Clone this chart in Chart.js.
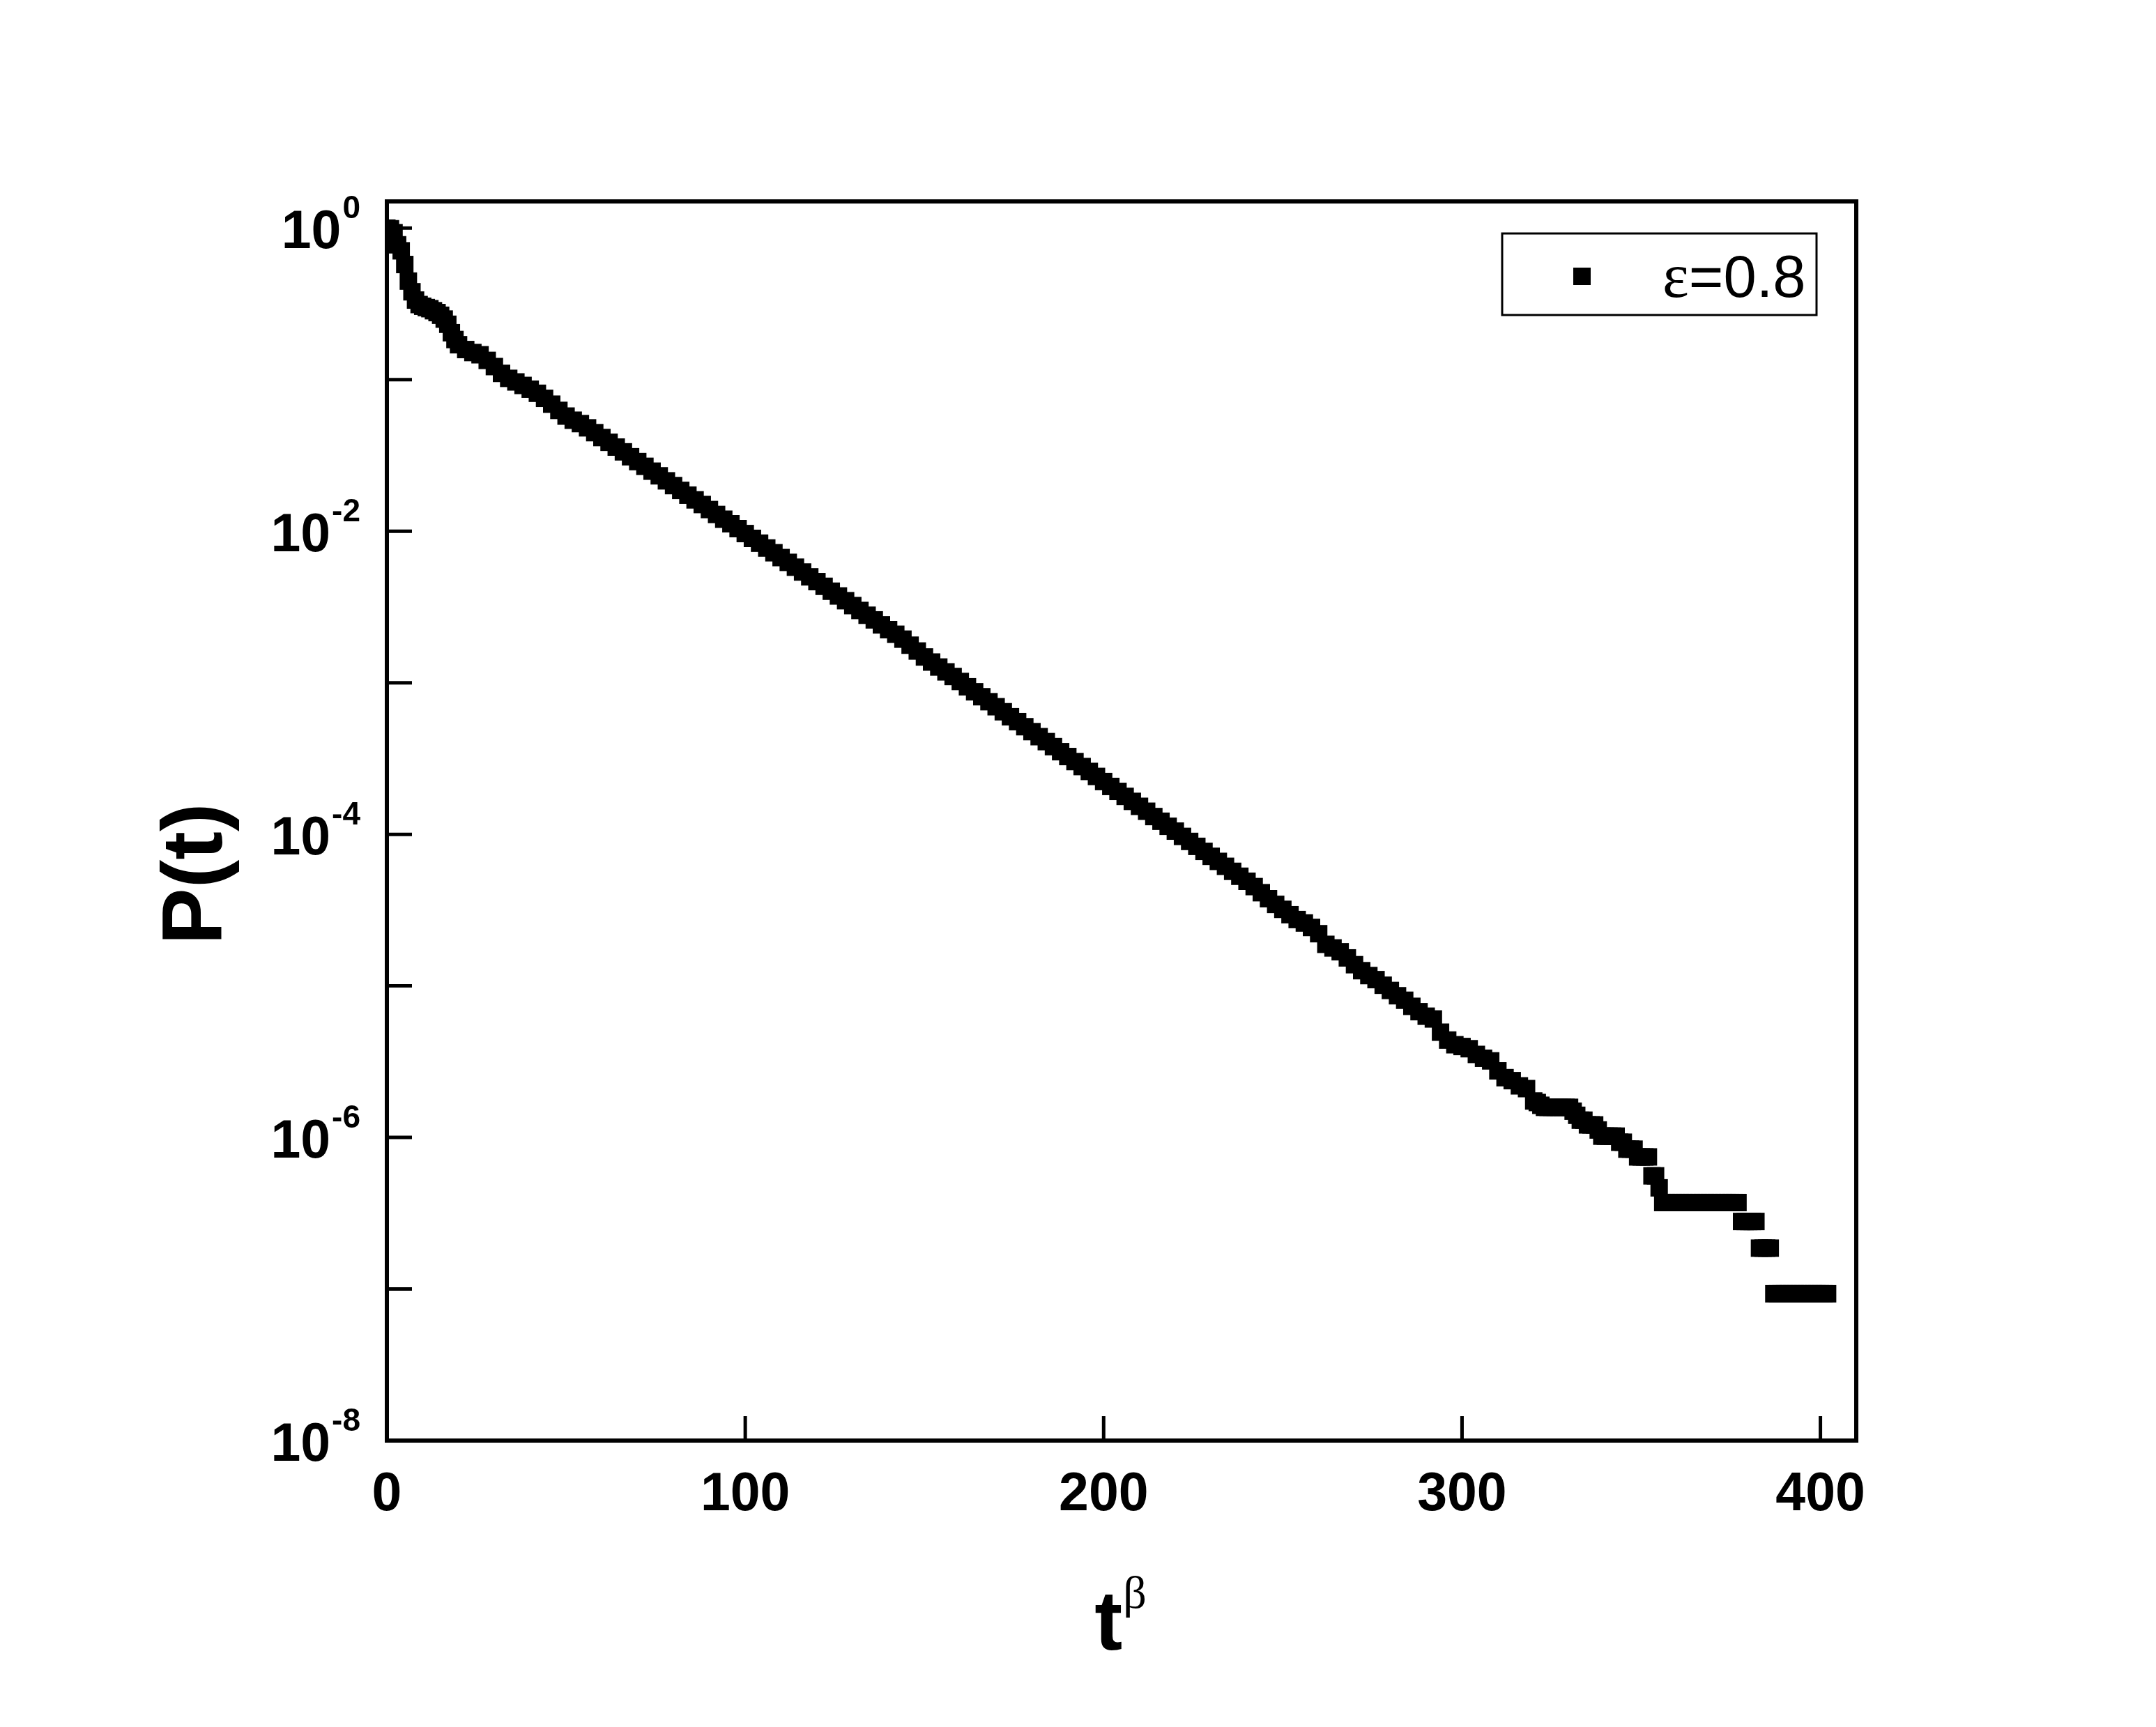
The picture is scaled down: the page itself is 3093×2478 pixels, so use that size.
<!DOCTYPE html>
<html>
<head>
<meta charset="utf-8">
<script src="https://cdn.jsdelivr.net/npm/chart.js@4.4.0/dist/chart.umd.min.js"></script>
<style>
  html, body { margin: 0; padding: 0; background: #fff; }
  #wrap { width: 3093px; height: 2478px; }
</style>
</head>
<body>
<div id="wrap"><canvas id="chart"></canvas></div>
<script>
// t^beta values (x) and survival probability P(t) (y)
var tVals = [
  0, 1, 2, 3, 4, 5, 6, 7, 8, 9,
  10, 11, 12, 13, 14, 15, 16, 17, 18, 19,
  20, 22, 24, 26, 28, 30, 32, 34, 36, 38,
  40, 42, 44, 46, 48, 50, 52, 54, 56, 58,
  60, 62, 64, 66, 68, 70, 72, 74, 76, 78,
  80, 82, 84, 86, 88, 90, 92, 94, 96, 98,
  100, 102, 104, 106, 108, 110, 112, 114, 116, 118,
  120, 122, 124, 126, 128, 130, 132, 134, 136, 138,
  140, 142, 144, 146, 148, 150, 152, 154, 156, 158,
  160, 162, 164, 166, 168, 170, 172, 174, 176, 178,
  180, 182, 184, 186, 188, 190, 192, 194, 196, 198,
  200, 202, 204, 206, 208, 210, 212, 214, 216, 218,
  220, 222, 224, 226, 228, 230, 232, 234, 236, 238,
  240, 242, 244, 246, 248, 250, 252, 254, 256, 258,
  260, 262, 264, 266, 268, 270, 272, 274, 276, 278,
  280, 282, 284, 286, 288, 290, 292, 294, 296, 298,
  300, 302, 304, 306, 308, 310, 312, 314, 316, 318,
  320, 321, 322, 323, 324, 325, 326, 327, 328, 329,
  330, 331, 332, 333, 334, 335, 336, 337, 338, 339,
  340, 341, 342, 343, 344, 345, 346, 347, 348, 349,
  350, 351, 352, 353, 354, 355, 356, 357, 358, 359,
  360, 361, 362, 363, 364, 365, 366, 367, 368, 369,
  370, 371, 372, 373, 374, 375, 376, 377, 378, 379,
  380, 381, 382, 383, 384, 385, 386, 387, 388, 389,
  390, 391, 392, 393, 394, 395, 396, 397, 398, 399,
  400, 401, 402
];

var pVals = [
  1.00, 0.990, 0.933, 0.776, 0.708, 0.575, 0.447, 0.380, 0.335, 0.313,
  0.305, 0.299, 0.294, 0.285, 0.277, 0.266, 0.251, 0.232, 0.204, 0.184,
  0.170, 0.158, 0.151, 0.146, 0.134, 0.122, 0.110, 0.102, 0.0966, 0.0916,
  0.0865, 0.0813, 0.0753, 0.0689, 0.0627, 0.0575, 0.0540, 0.0513, 0.0481, 0.0447,
  0.0415, 0.0386, 0.0359, 0.0334, 0.0310, 0.0288, 0.0268, 0.0249, 0.0232, 0.0215,
  0.0200, 0.0186, 0.0173, 0.0161, 0.0150, 0.0139, 0.0129, 0.0120, 0.0112, 0.0104,
  9.65e-3, 8.97e-3, 8.34e-3, 7.75e-3, 7.21e-3, 6.70e-3, 6.23e-3, 5.79e-3, 5.38e-3, 5.00e-3,
  4.65e-3, 4.33e-3, 4.02e-3, 3.74e-3, 3.48e-3, 3.23e-3, 3.00e-3, 2.79e-3, 2.60e-3, 2.41e-3,
  2.24e-3, 2.09e-3, 1.94e-3, 1.77e-3, 1.62e-3, 1.48e-3, 1.37e-3, 1.27e-3, 1.18e-3, 1.10e-3,
  1.02e-3, 9.41e-4, 8.72e-4, 8.09e-4, 7.50e-4, 6.95e-4, 6.44e-4, 5.97e-4, 5.54e-4, 5.13e-4,
  4.76e-4, 4.41e-4, 4.09e-4, 3.79e-4, 3.51e-4, 3.26e-4, 3.02e-4, 2.80e-4, 2.60e-4, 2.41e-4,
  2.23e-4, 2.07e-4, 1.92e-4, 1.78e-4, 1.65e-4, 1.53e-4, 1.42e-4, 1.31e-4, 1.22e-4, 1.13e-4,
  1.05e-4, 9.69e-5, 8.98e-5, 8.33e-5, 7.72e-5, 7.16e-5, 6.63e-5, 6.15e-5, 5.70e-5, 5.29e-5,
  4.90e-5, 4.52e-5, 4.12e-5, 3.76e-5, 3.45e-5, 3.20e-5, 2.95e-5, 2.74e-5, 2.60e-5, 2.43e-5,
  2.21e-5, 1.88e-5, 1.78e-5, 1.68e-5, 1.53e-5, 1.38e-5, 1.26e-5, 1.17e-5, 1.10e-5, 1.01e-5,
  9.33e-6, 8.61e-6, 8.04e-6, 7.33e-6, 6.76e-6, 6.31e-6, 6.05e-6, 4.95e-6, 4.39e-6, 4.09e-6,
  3.98e-6, 3.85e-6, 3.53e-6, 3.33e-6, 3.20e-6, 2.75e-6, 2.48e-6, 2.37e-6, 2.19e-6, 2.10e-6,
  1.74e-6, 1.70e-6, 1.63e-6, 1.58e-6, 1.58e-6, 1.58e-6, 1.58e-6, 1.58e-6, 1.58e-6, 1.58e-6,
  1.58e-6, 1.49e-6, 1.40e-6, 1.30e-6, 1.30e-6, 1.21e-6, 1.21e-6, 1.21e-6, 1.12e-6, 1.02e-6,
  1.02e-6, 1.02e-6, 1.02e-6, 1.02e-6, 9.30e-7, 9.30e-7, 8.37e-7, 8.37e-7, 8.37e-7, 7.44e-7,
  7.44e-7, 7.44e-7, 7.44e-7, 5.58e-7, 5.58e-7, 4.65e-7, 3.72e-7, 3.72e-7, 3.72e-7, 3.72e-7,
  3.72e-7, 3.72e-7, 3.72e-7, 3.72e-7, 3.72e-7, 3.72e-7, 3.72e-7, 3.72e-7, 3.72e-7, 3.72e-7,
  3.72e-7, 3.72e-7, 3.72e-7, 3.72e-7, 3.72e-7, 3.72e-7, 3.72e-7, 3.72e-7, 2.79e-7, 2.79e-7,
  2.79e-7, 2.79e-7, 2.79e-7, 1.86e-7, 1.86e-7, 1.86e-7, 1.86e-7, 9.30e-8, 9.30e-8, 9.30e-8,
  9.30e-8, 9.30e-8, 9.30e-8, 9.30e-8, 9.30e-8, 9.30e-8, 9.30e-8, 9.30e-8, 9.30e-8, 9.30e-8,
  9.30e-8, 9.30e-8, 9.30e-8
];

var xTicks = [0, 100, 200, 300, 400];
var yMajorExp = [0, -2, -4, -6, -8];   // labelled decades
var yMinorExp = [-1, -3, -5, -7];      // unlabelled decades
var seriesLabel = 'ε=0.8';
var xTitle = 't', xTitleSup = 'β';
var yTitle = 'P(t)';

var points = tVals.map(function (t, i) {
  return { x: t, y: pVals[i] };
});

var SANS = '"Liberation Sans", Arial, sans-serif';
var SERIF = '"Liberation Serif", "Times New Roman", serif';

// frame, inward ticks, labels with superscripts, titles and legend
var framePlugin = {
  id: 'frame',
  afterDatasetsDraw: function (chart) {
    var ctx = chart.ctx;
    var a = chart.chartArea;
    var xs = chart.scales.x;
    var ys = chart.scales.y;
    ctx.save();
    ctx.fillStyle = '#000';
    ctx.strokeStyle = '#000';

    // ticks pointing into the plot
    ctx.lineWidth = 5;
    ctx.beginPath();
    yMajorExp.concat(yMinorExp).forEach(function (e) {
      var py = ys.getPixelForValue(Math.pow(10, e));
      ctx.moveTo(a.left, py);
      ctx.lineTo(a.left + 36, py);
    });
    xTicks.forEach(function (v) {
      var px = xs.getPixelForValue(v);
      ctx.moveTo(px, a.bottom);
      ctx.lineTo(px, a.bottom - 35);
    });
    ctx.stroke();

    // box
    ctx.lineWidth = 6;
    ctx.strokeRect(a.left, a.top, a.right - a.left, a.bottom - a.top);

    // x tick labels
    ctx.textBaseline = 'alphabetic';
    ctx.textAlign = 'center';
    ctx.font = 'bold 77px ' + SANS;
    xTicks.forEach(function (v) {
      ctx.fillText(String(v), xs.getPixelForValue(v), a.bottom + 100);
    });

    // y tick labels 10^n
    ctx.textAlign = 'right';
    yMajorExp.forEach(function (e) {
      var py = ys.getPixelForValue(Math.pow(10, e));
      var sup = String(e);
      var supRight = a.left - 38;
      ctx.font = 'bold 46px ' + SANS;
      ctx.fillText(sup, supRight, py - 14);
      var supW = ctx.measureText(sup).width;
      ctx.font = 'bold 77px ' + SANS;
      ctx.fillText('10', supRight - supW - 2, py + 29);
    });

    // x title t^beta
    var cx = (a.left + a.right) / 2;
    ctx.textAlign = 'left';
    ctx.font = 'bold 120px ' + SANS;
    var tw = ctx.measureText(xTitle).width;
    ctx.font = '66px ' + SERIF;
    var bw = ctx.measureText(xTitleSup).width;
    var x0 = cx - (tw + bw) / 2 - 2;
    ctx.font = 'bold 120px ' + SANS;
    ctx.fillText(xTitle, x0, a.bottom + 300);
    ctx.font = '66px ' + SERIF;
    ctx.fillText(xTitleSup, x0 + tw + 1, a.bottom + 240);

    // y title
    ctx.save();
    ctx.translate(a.left - 237, (a.top + a.bottom) / 2 + 76);
    ctx.rotate(-Math.PI / 2);
    ctx.textAlign = 'center';
    ctx.font = 'bold 122px ' + SANS;
    ctx.fillText(yTitle, 0, 0);
    ctx.restore();

    // legend
    var lx = a.right - 508, ly = a.top + 46, lw = 451, lh = 117;
    ctx.lineWidth = 3;
    ctx.strokeRect(lx, ly, lw, lh);
    ctx.fillRect(lx + 102, ly + 49, 25, 25);
    var sym = seriesLabel.charAt(0);
    var rest = seriesLabel.slice(1);
    ctx.textAlign = 'left';
    ctx.font = '90px ' + SERIF;
    var sx = lx + 230;
    ctx.fillText(sym, sx, ly + 91);
    var sw = ctx.measureText(sym).width;
    ctx.font = '85px ' + SANS;
    ctx.fillText(rest, sx + sw, ly + 91);

    ctx.restore();
  }
};

window.onload = function () {
  var ctx = document.getElementById('chart').getContext('2d');
  window.myChart = new Chart(ctx, {
    type: 'scatter',
    data: {
      datasets: [{
        label: seriesLabel,
        data: points,
        pointStyle: 'rect',
        pointRadius: 17.68,
        pointBorderWidth: 0,
        pointBackgroundColor: '#000',
        clip: 0
      }]
    },
    options: {
      responsive: true,
      maintainAspectRatio: false,
      animation: false,
      events: [],
      layout: {
        padding: { left: 555, right: 430, top: 289, bottom: 411 }
      },
      plugins: {
        legend: { display: false },
        tooltip: { enabled: false }
      },
      scales: {
        x: { type: 'linear', min: 0, max: 410, display: false },
        y: { type: 'logarithmic', min: 1e-8, max: 1.5, display: false }
      }
    },
    plugins: [framePlugin]
  });
};
</script>
</body>
</html>
